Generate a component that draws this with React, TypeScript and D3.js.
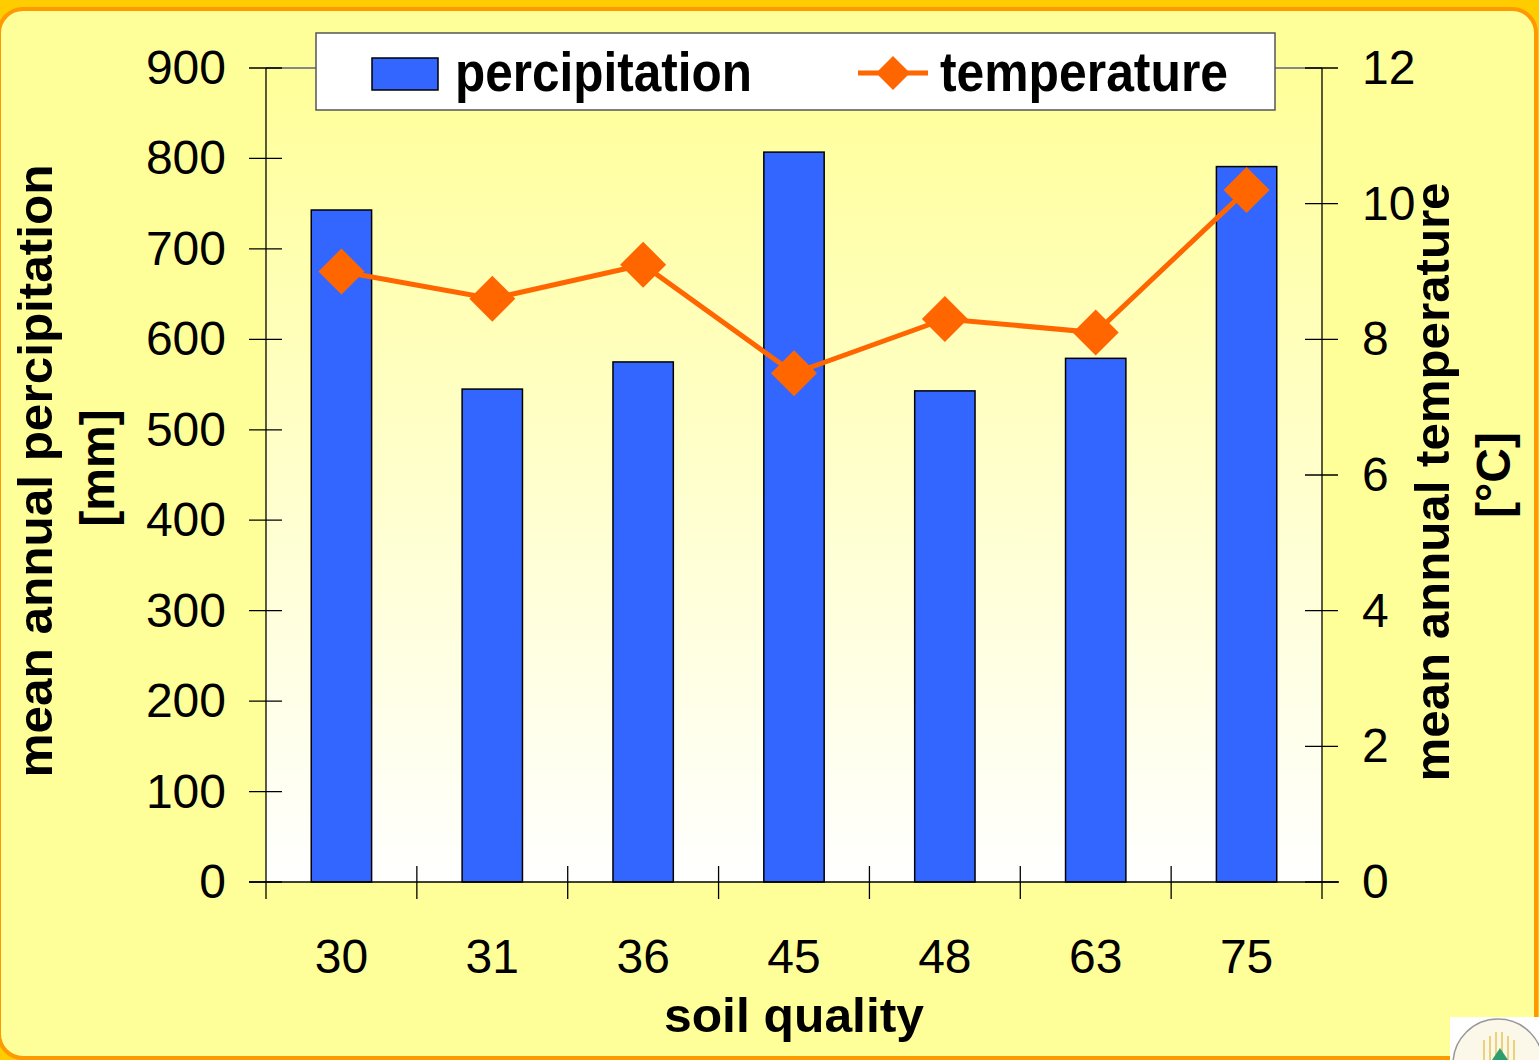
import React, { useEffect, useRef } from "react";
import * as d3 from "d3";

const soilQuality = ["30", "31", "36", "45", "48", "63", "75"];
const precipitation = [743, 545, 575, 807, 543, 579, 791];
const temperature = [9.0, 8.6, 9.1, 7.5, 8.3, 8.1, 10.2];
const precipTicks = [0, 100, 200, 300, 400, 500, 600, 700, 800, 900];
const tempTicks = [0, 2, 4, 6, 8, 10, 12];

const colors = {
  gold: "#FFCC00",
  border: "#FF9900",
  panel: "#FFFF99",
  bar: "#3366FF",
  line: "#FF6600",
  axis: "#000000",
};

const W = 1539;
const H = 1060;
const plot = { left: 266, right: 1322, top: 68, bottom: 882 };
const font = "'Liberation Sans', Arial, sans-serif";

const App = () => {
  const ref = useRef<SVGSVGElement>(null);

  useEffect(() => {
    const svg = d3.select(ref.current);
    svg.selectAll("*").remove();

    const defs = svg.append("defs");
    const grad = defs
      .append("linearGradient")
      .attr("id", "plotGrad")
      .attr("x1", 0)
      .attr("y1", 0)
      .attr("x2", 0)
      .attr("y2", 1);
    grad.append("stop").attr("offset", "0%").attr("stop-color", "#FFFF99");
    grad.append("stop").attr("offset", "100%").attr("stop-color", "#FFFFFF");

    // page background + rounded panel
    svg.append("rect").attr("width", W).attr("height", H).attr("fill", colors.gold);
    svg
      .append("rect")
      .attr("x", -1)
      .attr("y", 9)
      .attr("width", 1537)
      .attr("height", 1049)
      .attr("rx", 24)
      .attr("fill", colors.panel)
      .attr("stroke", colors.border)
      .attr("stroke-width", 4);

    // scales
    const x = d3.scaleBand<string>().domain(soilQuality).range([plot.left, plot.right]).paddingInner(0).paddingOuter(0);
    const yL = d3.scaleLinear().domain([0, 900]).range([plot.bottom, plot.top]);
    const yR = d3.scaleLinear().domain([0, 12]).range([plot.bottom, plot.top]);

    // plot area
    svg
      .append("rect")
      .attr("x", plot.left)
      .attr("y", plot.top)
      .attr("width", plot.right - plot.left)
      .attr("height", plot.bottom - plot.top)
      .attr("fill", "url(#plotGrad)");
    svg
      .append("line")
      .attr("x1", plot.left)
      .attr("x2", plot.right)
      .attr("y1", plot.top)
      .attr("y2", plot.top)
      .attr("stroke", "#888")
      .attr("stroke-width", 2);

    // bars
    const barW = x.bandwidth() * 0.4;
    svg
      .append("g")
      .selectAll("rect")
      .data(precipitation)
      .join("rect")
      .attr("x", (_, i) => (x(soilQuality[i]) as number) + (x.bandwidth() - barW) / 2)
      .attr("y", (d) => yL(d))
      .attr("width", barW)
      .attr("height", (d) => yL(0) - yL(d))
      .attr("fill", colors.bar)
      .attr("stroke", "#000")
      .attr("stroke-width", 1.5);

    // axes
    const ax = svg.append("g").attr("stroke", colors.axis).attr("stroke-width", 1.3);
    ax.append("line").attr("x1", plot.left).attr("x2", plot.left).attr("y1", plot.top).attr("y2", plot.bottom + 17);
    ax.append("line").attr("x1", plot.right).attr("x2", plot.right).attr("y1", plot.top).attr("y2", plot.bottom + 17);
    ax.append("line").attr("x1", plot.left - 17).attr("x2", plot.right + 17).attr("y1", plot.bottom).attr("y2", plot.bottom);
    precipTicks.forEach((t) => {
      ax.append("line").attr("x1", plot.left - 17).attr("x2", plot.left + 16).attr("y1", yL(t)).attr("y2", yL(t));
    });
    tempTicks.forEach((t) => {
      ax.append("line").attr("x1", plot.right - 17).attr("x2", plot.right + 16).attr("y1", yR(t)).attr("y2", yR(t));
    });
    soilQuality.forEach((c, i) => {
      const bx = x(c) as number;
      if (i > 0) ax.append("line").attr("x1", bx).attr("x2", bx).attr("y1", plot.bottom - 16).attr("y2", plot.bottom + 17);
    });

    // tick labels
    const labels = svg.append("g").attr("font-family", font).attr("font-size", 48).attr("fill", "#000");
    precipTicks.forEach((t) => {
      labels.append("text").attr("x", 226).attr("y", yL(t) + 16).attr("text-anchor", "end").text(t);
    });
    tempTicks.forEach((t) => {
      labels.append("text").attr("x", 1362).attr("y", yR(t) + 16).attr("text-anchor", "start").text(t);
    });
    soilQuality.forEach((c) => {
      labels
        .append("text")
        .attr("x", (x(c) as number) + x.bandwidth() / 2)
        .attr("y", 973)
        .attr("text-anchor", "middle")
        .text(c);
    });

    // temperature line
    const cx = (i: number) => (x(soilQuality[i]) as number) + x.bandwidth() / 2;
    const line = d3
      .line<number>()
      .x((_, i) => cx(i))
      .y((d) => yR(d));
    svg
      .append("path")
      .datum(temperature)
      .attr("d", line)
      .attr("fill", "none")
      .attr("stroke", colors.line)
      .attr("stroke-width", 5);
    const diamond = (r: number) => `M0,${-r}L${r},0L0,${r}L${-r},0Z`;
    svg
      .append("g")
      .selectAll("path")
      .data(temperature)
      .join("path")
      .attr("transform", (d, i) => `translate(${cx(i)},${yR(d)})`)
      .attr("d", diamond(23))
      .attr("fill", colors.line);

    // axis titles
    const titles = svg.append("g").attr("font-family", font).attr("font-weight", 700).attr("fill", "#000");
    titles
      .append("text")
      .attr("transform", "translate(52,471) rotate(-90)")
      .attr("text-anchor", "middle")
      .attr("font-size", 48)
      .attr("textLength", 613)
      .attr("lengthAdjust", "spacingAndGlyphs")
      .text("mean annual percipitation");
    titles
      .append("text")
      .attr("transform", "translate(114,468) rotate(-90)")
      .attr("text-anchor", "middle")
      .attr("font-size", 48)
      .text("[mm]");
    titles
      .append("text")
      .attr("transform", "translate(1449,482) rotate(-90)")
      .attr("text-anchor", "middle")
      .attr("font-size", 48)
      .attr("textLength", 599)
      .attr("lengthAdjust", "spacingAndGlyphs")
      .text("mean annual temperature");
    titles
      .append("text")
      .attr("transform", "translate(1510,475) rotate(-90)")
      .attr("text-anchor", "middle")
      .attr("font-size", 48)
      .text("[°C]");
    titles
      .append("text")
      .attr("x", 794)
      .attr("y", 1032)
      .attr("text-anchor", "middle")
      .attr("font-size", 48)
      .attr("textLength", 260)
      .attr("lengthAdjust", "spacingAndGlyphs")
      .text("soil quality");

    // legend
    const lg = svg.append("g");
    lg.append("rect")
      .attr("x", 316)
      .attr("y", 33)
      .attr("width", 959)
      .attr("height", 77)
      .attr("fill", "#fff")
      .attr("stroke", "#555")
      .attr("stroke-width", 1.5);
    lg.append("rect")
      .attr("x", 372)
      .attr("y", 58)
      .attr("width", 66)
      .attr("height", 32)
      .attr("fill", colors.bar)
      .attr("stroke", "#000")
      .attr("stroke-width", 1.5);
    lg.append("line")
      .attr("x1", 858)
      .attr("x2", 928)
      .attr("y1", 73)
      .attr("y2", 73)
      .attr("stroke", colors.line)
      .attr("stroke-width", 5);
    lg.append("path").attr("transform", "translate(893,73)").attr("d", diamond(17)).attr("fill", colors.line);
    const lt = lg.append("g").attr("font-family", font).attr("font-weight", 700).attr("font-size", 56);
    lt.append("text")
      .attr("x", 455)
      .attr("y", 91)
      .attr("textLength", 297)
      .attr("lengthAdjust", "spacingAndGlyphs")
      .text("percipitation");
    lt.append("text")
      .attr("x", 940)
      .attr("y", 91)
      .attr("textLength", 288)
      .attr("lengthAdjust", "spacingAndGlyphs")
      .text("temperature");

    // corner logo
    const logo = svg.append("g");
    logo.append("rect").attr("x", 1450).attr("y", 1017).attr("width", 89).attr("height", 43).attr("fill", "#fff");
    logo
      .append("circle")
      .attr("cx", 1498)
      .attr("cy", 1064)
      .attr("r", 45)
      .attr("fill", "#FBF8EA")
      .attr("stroke", "#999")
      .attr("stroke-width", 1.5);
    [1484, 1490, 1496, 1502, 1508, 1514].forEach((lx, i) => {
      const top = 1040 - [0, 4, 8, 8, 4, 0][i];
      logo
        .append("line")
        .attr("x1", lx)
        .attr("x2", lx)
        .attr("y1", top)
        .attr("y2", 1060)
        .attr("stroke", "#EBD27A")
        .attr("stroke-width", 2);
    });
    logo.append("path").attr("d", "M1500,1048 L1508,1060 L1492,1060 Z").attr("fill", "#2E9E6E");
  }, []);

  return (
    <svg
      ref={ref}
      width={W}
      height={H}
      style={{ position: "absolute", left: 0, top: 0, display: "block" }}
    />
  );
};

export default App;
